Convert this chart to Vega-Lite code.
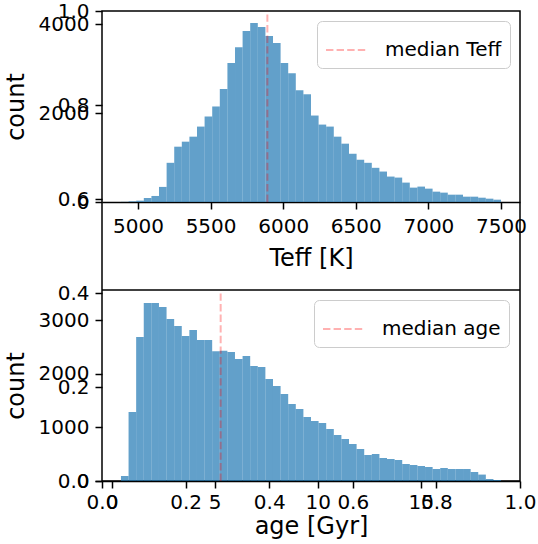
{
  "$schema": "https://vega.github.io/schema/vega-lite/v6.json",
  "autosize": "none",
  "padding": {"left": 102, "top": 11, "right": 18, "bottom": 63},
  "width": 418,
  "height": 470,
  "datasets": {
    "frame": [{"u": 0, "v": 0}, {"u": 1, "v": 1}],
    "teff": [
      {"t0": 4883.0, "t1": 4935.3, "count": 3},
      {"t0": 4935.3, "t1": 4987.7, "count": 15},
      {"t0": 4987.7, "t1": 5040.0, "count": 30},
      {"t0": 5040.0, "t1": 5092.4, "count": 90},
      {"t0": 5092.4, "t1": 5144.7, "count": 136},
      {"t0": 5144.7, "t1": 5197.0, "count": 340},
      {"t0": 5197.0, "t1": 5249.4, "count": 883},
      {"t0": 5249.4, "t1": 5301.7, "count": 1246},
      {"t0": 5301.7, "t1": 5354.1, "count": 1359},
      {"t0": 5354.1, "t1": 5406.4, "count": 1472},
      {"t0": 5406.4, "t1": 5458.7, "count": 1699},
      {"t0": 5458.7, "t1": 5511.1, "count": 1925},
      {"t0": 5511.1, "t1": 5563.4, "count": 2152},
      {"t0": 5563.4, "t1": 5615.8, "count": 2544},
      {"t0": 5615.8, "t1": 5668.1, "count": 3133},
      {"t0": 5668.1, "t1": 5720.4, "count": 3488},
      {"t0": 5720.4, "t1": 5772.8, "count": 3850},
      {"t0": 5772.8, "t1": 5825.1, "count": 4035},
      {"t0": 5825.1, "t1": 5877.5, "count": 3945},
      {"t0": 5877.5, "t1": 5929.8, "count": 3742},
      {"t0": 5929.8, "t1": 5982.1, "count": 3582},
      {"t0": 5982.1, "t1": 6034.5, "count": 3130},
      {"t0": 6034.5, "t1": 6086.8, "count": 2902},
      {"t0": 6086.8, "t1": 6139.2, "count": 2518},
      {"t0": 6139.2, "t1": 6191.5, "count": 2427},
      {"t0": 6191.5, "t1": 6243.8, "count": 1948},
      {"t0": 6243.8, "t1": 6296.2, "count": 1744},
      {"t0": 6296.2, "t1": 6348.5, "count": 1699},
      {"t0": 6348.5, "t1": 6400.9, "count": 1472},
      {"t0": 6400.9, "t1": 6453.2, "count": 1314},
      {"t0": 6453.2, "t1": 6505.5, "count": 1087},
      {"t0": 6505.5, "t1": 6557.9, "count": 951},
      {"t0": 6557.9, "t1": 6610.2, "count": 883},
      {"t0": 6610.2, "t1": 6662.6, "count": 770},
      {"t0": 6662.6, "t1": 6714.9, "count": 686},
      {"t0": 6714.9, "t1": 6767.2, "count": 573},
      {"t0": 6767.2, "t1": 6819.6, "count": 550},
      {"t0": 6819.6, "t1": 6871.9, "count": 437},
      {"t0": 6871.9, "t1": 6924.3, "count": 324},
      {"t0": 6924.3, "t1": 6976.6, "count": 347},
      {"t0": 6976.6, "t1": 7028.9, "count": 301},
      {"t0": 7028.9, "t1": 7081.3, "count": 233},
      {"t0": 7081.3, "t1": 7133.6, "count": 211},
      {"t0": 7133.6, "t1": 7186.0, "count": 165},
      {"t0": 7186.0, "t1": 7238.3, "count": 165},
      {"t0": 7238.3, "t1": 7290.6, "count": 120},
      {"t0": 7290.6, "t1": 7343.0, "count": 120},
      {"t0": 7343.0, "t1": 7395.3, "count": 97},
      {"t0": 7395.3, "t1": 7447.7, "count": 75},
      {"t0": 7447.7, "t1": 7500.0, "count": 52}
    ],
    "age": [
      {"a0": 0.450, "a1": 0.819, "count": 93},
      {"a0": 0.819, "a1": 1.188, "count": 1290},
      {"a0": 1.188, "a1": 1.557, "count": 2692},
      {"a0": 1.557, "a1": 1.926, "count": 3327},
      {"a0": 1.926, "a1": 2.295, "count": 3327},
      {"a0": 2.295, "a1": 2.664, "count": 3252},
      {"a0": 2.664, "a1": 3.033, "count": 3028},
      {"a0": 3.033, "a1": 3.402, "count": 2897},
      {"a0": 3.402, "a1": 3.771, "count": 2710},
      {"a0": 3.771, "a1": 4.140, "count": 2822},
      {"a0": 4.140, "a1": 4.509, "count": 2636},
      {"a0": 4.509, "a1": 4.878, "count": 2636},
      {"a0": 4.878, "a1": 5.247, "count": 2424},
      {"a0": 5.247, "a1": 5.616, "count": 2436},
      {"a0": 5.616, "a1": 5.985, "count": 2411},
      {"a0": 5.985, "a1": 6.354, "count": 2280},
      {"a0": 6.354, "a1": 6.723, "count": 2336},
      {"a0": 6.723, "a1": 7.092, "count": 2150},
      {"a0": 7.092, "a1": 7.461, "count": 2131},
      {"a0": 7.461, "a1": 7.830, "count": 1907},
      {"a0": 7.830, "a1": 8.199, "count": 1776},
      {"a0": 8.199, "a1": 8.568, "count": 1626},
      {"a0": 8.568, "a1": 8.937, "count": 1439},
      {"a0": 8.937, "a1": 9.306, "count": 1346},
      {"a0": 9.306, "a1": 9.675, "count": 1196},
      {"a0": 9.675, "a1": 10.044, "count": 1121},
      {"a0": 10.044, "a1": 10.413, "count": 1084},
      {"a0": 10.413, "a1": 10.782, "count": 972},
      {"a0": 10.782, "a1": 11.151, "count": 860},
      {"a0": 11.151, "a1": 11.520, "count": 785},
      {"a0": 11.520, "a1": 11.889, "count": 692},
      {"a0": 11.889, "a1": 12.258, "count": 598},
      {"a0": 12.258, "a1": 12.627, "count": 486},
      {"a0": 12.627, "a1": 12.996, "count": 505},
      {"a0": 12.996, "a1": 13.365, "count": 430},
      {"a0": 13.365, "a1": 13.734, "count": 411},
      {"a0": 13.734, "a1": 14.103, "count": 393},
      {"a0": 14.103, "a1": 14.472, "count": 318},
      {"a0": 14.472, "a1": 14.841, "count": 299},
      {"a0": 14.841, "a1": 15.210, "count": 280},
      {"a0": 15.210, "a1": 15.579, "count": 262},
      {"a0": 15.579, "a1": 15.948, "count": 224},
      {"a0": 15.948, "a1": 16.317, "count": 243},
      {"a0": 16.317, "a1": 16.686, "count": 224},
      {"a0": 16.686, "a1": 17.055, "count": 224},
      {"a0": 17.055, "a1": 17.424, "count": 224},
      {"a0": 17.424, "a1": 17.793, "count": 168},
      {"a0": 17.793, "a1": 18.162, "count": 120},
      {"a0": 18.162, "a1": 18.531, "count": 37},
      {"a0": 18.531, "a1": 18.900, "count": 19}
    ]
  },
  "layer": [
    {
      "data": {"name": "frame"},
      "mark": {"type": "point", "opacity": 0},
      "encoding": {
        "x": {"field": "u", "type": "quantitative",
              "scale": {"domain": [0, 1], "nice": false, "zero": false},
              "axis": {"orient": "bottom", "values": [0, 0.2, 0.4, 0.6, 0.8, 1.0], "format": ".1f", "title": null, "domain": false}},
        "y": {"field": "v", "type": "quantitative",
              "scale": {"domain": [0, 1], "nice": false, "zero": false},
              "axis": {"orient": "left", "values": [0, 0.2, 0.4, 0.6, 0.8, 1.0], "format": ".1f", "title": null, "domain": false}}
      }
    },
    {
      "layer": [
        {
          "data": {"name": "teff"},
          "mark": {"type": "bar", "color": "#1f77b4", "opacity": 0.7},
          "encoding": {
            "x": {"field": "t0", "type": "quantitative",
                  "scale": {"domain": [4752, 7631], "nice": false, "zero": false},
                  "axis": {"orient": "bottom", "offset": -279, "values": [5000, 5500, 6000, 6500, 7000, 7500], "format": "d", "title": "Teff [K]", "labelPadding": 7, "titlePadding": 10}},
            "x2": {"field": "t1"},
            "y": {"field": "count", "type": "quantitative",
                  "scale": {"domain": [0, 4303], "range": [191, 0], "nice": false},
                  "axis": {"orient": "left", "values": [0, 2000, 4000], "format": "d", "title": "count", "domain": false}},
            "y2": {"datum": 0}
          }
        },
        {
          "data": {"values": [{"label": "median Teff"}]},
          "mark": {"type": "rule", "strokeWidth": 2, "strokeDash": [7.4, 3.2], "opacity": 0.3},
          "encoding": {
            "x": {"datum": 5891, "type": "quantitative"},
            "y": {"datum": 0, "type": "quantitative"},
            "y2": {"datum": 4303},
            "color": {"field": "label", "type": "nominal", "scale": {"range": ["#ff0000"]},
                      "legend": {"orient": "top-right", "offset": 10, "title": null}}
          }
        }
      ]
    },
    {
      "layer": [
        {
          "data": {"name": "age"},
          "mark": {"type": "bar", "color": "#1f77b4", "opacity": 0.7},
          "encoding": {
            "x": {"field": "a0", "type": "quantitative",
                  "scale": {"domain": [-0.47, 19.82], "nice": false, "zero": false},
                  "axis": {"orient": "bottom", "values": [0, 5, 10, 15], "format": "d", "title": "age [Gyr]"}},
            "x2": {"field": "a1"},
            "y": {"field": "count", "type": "quantitative",
                  "scale": {"domain": [0, 3570], "range": [470, 279], "nice": false},
                  "axis": {"orient": "left", "values": [0, 1000, 2000, 3000], "format": "d", "title": "count", "domain": false}},
            "y2": {"datum": 0}
          }
        },
        {
          "data": {"values": [{"label": "median age"}]},
          "mark": {"type": "rule", "strokeWidth": 2, "strokeDash": [7.4, 3.2], "opacity": 0.3},
          "encoding": {
            "x": {"datum": 5.29, "type": "quantitative"},
            "y": {"datum": 0, "type": "quantitative"},
            "y2": {"datum": 3570},
            "color": {"field": "label", "type": "nominal", "scale": {"range": ["#ff0000"]},
                      "legend": {"orient": "none", "legendX": 212, "legendY": 289, "title": null}}
          }
        },
        {
          "data": {"values": [{"top": 3570}]},
          "mark": {"type": "rule", "color": "black", "strokeWidth": 1.5},
          "encoding": {
            "y": {"field": "top", "type": "quantitative"}
          }
        }
      ]
    }
  ],
  "resolve": {
    "scale": {"x": "independent", "y": "independent", "color": "independent"},
    "axis": {"x": "independent", "y": "independent"},
    "legend": {"color": "independent"}
  },
  "config": {
    "font": "DejaVu Sans",
    "view": {"stroke": "black", "strokeWidth": 1.5},
    "axis": {
      "grid": false,
      "domainColor": "black", "domainWidth": 1.5,
      "tickColor": "black", "tickWidth": 1.5, "tickSize": 7,
      "labelColor": "black", "labelFontSize": 20, "labelFont": "DejaVu Sans",
      "titleColor": "black", "titleFontSize": 24, "titleFontWeight": "normal", "titleFont": "DejaVu Sans",
      "labelOverlap": false, "labelFlush": false, "labelBound": false
    },
    "axisX": {"labelPadding": 4, "titlePadding": 2},
    "axisY": {"labelPadding": 6, "titlePadding": 10},
    "legend": {
      "labelFontSize": 20, "labelColor": "black", "labelFont": "DejaVu Sans",
      "strokeColor": "#cccccc", "cornerRadius": 5, "padding": 8, "fillColor": "white",
      "symbolType": "stroke", "symbolSize": 1600, "symbolStrokeWidth": 2, "symbolDash": [7.4, 3.2],
      "labelOffset": 18, "symbolOpacity": 0.3
    }
  }
}
